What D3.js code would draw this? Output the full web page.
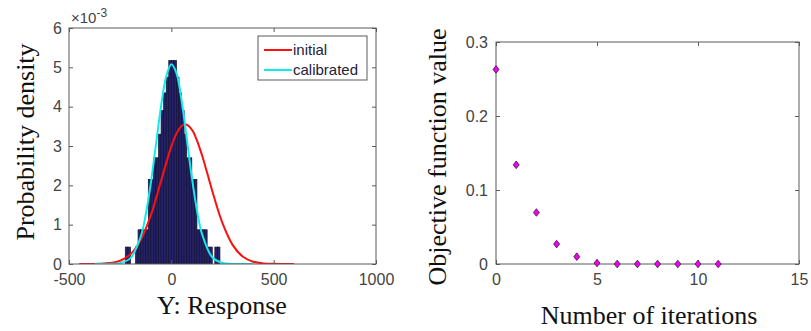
<!DOCTYPE html>
<html>
<head>
<meta charset="utf-8">
<script src="https://cdn.jsdelivr.net/npm/d3@7"></script>
<style>
  body { margin: 0; background: #fff; }
  svg { display: block; }
</style>
</head>
<body>
<svg id="chart" width="811" height="331"></svg>
<script>
// ---------------- DATA ----------------
// Left panel: histogram (left edge of bin, bin width, density x1e-3)
const binLeft = [-225, -212.5, -200, -187.5, -175, -162.5, -150, -137.5, -125, -112.5,
  -100, -87.5, -75, -62.5, -50, -37.5, -25, -12.5, 0, 12.5,
  25, 37.5, 50, 62.5, 75, 87.5, 100, 112.5, 125, 137.5,
  150, 162.5, 175, 187.5, 200, 212.5, 225];
const binWidth = 12.5;
const binHeight = [0.43, 0.43, 0, 0, 0.43, 0.87, 0.87, 0.87, 0.87, 2.15,
  2.15, 2.7, 2.7, 3.3, 3.9, 4.35, 4.75, 5.17, 5.17, 5.17,
  4.75, 4.35, 3.9, 3.3, 2.7, 2.7, 2.15, 2.15, 0.87, 0.87,
  0.87, 0.87, 0.43, 0.43, 0, 0.43, 0.43];

// Density curves (x1e-3)
const initialX = [-450, -400, -350, -300, -250, -200, -150, -100, -50, 0, 25, 50, 68, 100, 125, 150, 175, 200, 250, 300, 350, 400, 450, 500, 550, 600];
const initialY = [0.0002, 0.001, 0.005, 0.023, 0.083, 0.246, 0.607, 1.243, 2.116, 2.99, 3.314, 3.507, 3.55, 3.418, 3.146, 2.765, 2.32, 1.858, 1.037, 0.48, 0.185, 0.059, 0.016, 0.0035, 0.0006, 0.0001];
const calibX = [-375, -300, -250, -200, -150, -125, -100, -75, -50, -25, 0, 25, 50, 75, 100, 125, 150, 200, 250, 300, 400];
const calibY = [0, 0.002, 0.021, 0.149, 0.687, 1.257, 2.064, 3.041, 4.02, 4.769, 5.078, 4.852, 4.161, 3.203, 2.212, 1.371, 0.762, 0.171, 0.025, 0.002, 0];

const legendLabels = ["initial", "calibrated"];

const leftXTicks = [-500, 0, 500, 1000];
const leftYTicks = [0, 1, 2, 3, 4, 5, 6];

// Right panel: objective function per iteration
const iterations = [0, 1, 2, 3, 4, 5, 6, 7, 8, 9, 10, 11];
const objective = [0.263, 0.134, 0.0696, 0.0269, 0.0099, 0.0013, 0, 0, 0, 0, 0, 0];
const rightXTicks = [0, 5, 10, 15];
const rightYTicks = [0, 0.1, 0.2, 0.3];

// ---------------- DRAW ----------------
const svg = d3.select("#chart");
const tickFont = "'Liberation Sans', Arial, sans-serif";
const serif = "'Liberation Serif', 'Times New Roman', serif";
const tickColor = "#444";
const boxColor = "#5a5a5a";
const plain = d => String(d);

function styleAxis(g) {
  g.select(".domain").remove();
  g.selectAll(".tick line").attr("stroke", boxColor);
  g.selectAll(".tick text").attr("fill", tickColor)
    .style("font-family", tickFont).style("font-size", "16px");
}

// ----- Left panel -----
const L = { x0: 69, x1: 376, y0: 28, y1: 264 };
const xL = d3.scaleLinear().domain([-500, 1000]).range([L.x0, L.x1]);
const yL = d3.scaleLinear().domain([0, 6]).range([L.y1, L.y0]);

const gL = svg.append("g");
gL.append("defs").append("clipPath").attr("id", "clipL")
  .append("rect").attr("x", L.x0).attr("y", L.y0).attr("width", L.x1 - L.x0).attr("height", L.y1 - L.y0);

const plotL = gL.append("g").attr("clip-path", "url(#clipL)");
plotL.selectAll("rect.bar").data(binLeft.map((b, i) => ({ b, h: binHeight[i] })).filter(d => d.h > 0))
  .enter().append("rect").attr("class", "bar")
  .attr("x", d => xL(d.b))
  .attr("width", d => xL(d.b + binWidth) - xL(d.b))
  .attr("y", d => yL(d.h))
  .attr("height", d => yL(0) - yL(d.h))
  .attr("fill", "#26226a")
  .attr("stroke", "#101030")
  .attr("stroke-width", 0.7);

const line = d3.line().x(d => xL(d[0])).y(d => yL(d[1])).curve(d3.curveCatmullRom.alpha(0.5));
plotL.append("path").datum(initialX.map((x, i) => [x, initialY[i]]))
  .attr("d", line).attr("fill", "none").attr("stroke", "#ff1010").attr("stroke-width", 2);
plotL.append("path").datum(calibX.map((x, i) => [x, calibY[i]]))
  .attr("d", line).attr("fill", "none").attr("stroke", "#10ecec").attr("stroke-width", 2);

// box
gL.append("rect").attr("x", L.x0).attr("y", L.y0).attr("width", L.x1 - L.x0).attr("height", L.y1 - L.y0)
  .attr("fill", "none").attr("stroke", boxColor).attr("stroke-width", 1);

gL.append("g").attr("transform", `translate(0,${L.y1})`)
  .call(d3.axisBottom(xL).tickValues(leftXTicks).tickSizeInner(-4).tickSizeOuter(0).tickPadding(10).tickFormat(plain))
  .call(styleAxis);
gL.append("g").attr("transform", `translate(0,${L.y0})`)
  .call(d3.axisTop(xL).tickValues(leftXTicks).tickSizeInner(-4).tickSizeOuter(0).tickFormat(""))
  .call(styleAxis);
gL.append("g").attr("transform", `translate(${L.x0},0)`)
  .call(d3.axisLeft(yL).tickValues(leftYTicks).tickSizeInner(-4).tickSizeOuter(0).tickPadding(7).tickFormat(plain))
  .call(styleAxis);
gL.append("g").attr("transform", `translate(${L.x1},0)`)
  .call(d3.axisRight(yL).tickValues(leftYTicks).tickSizeInner(-4).tickSizeOuter(0).tickFormat(""))
  .call(styleAxis);

// exponent label
const expT = gL.append("text").attr("x", 71).attr("y", 23)
  .attr("fill", tickColor).style("font-family", tickFont).style("font-size", "15px");
expT.append("tspan").text("×10");
expT.append("tspan").attr("dy", -6).style("font-size", "12px").text("-3");

// axis titles
gL.append("text").attr("x", 222).attr("y", 314).attr("text-anchor", "middle")
  .style("font-family", serif).style("font-size", "26px").attr("fill", "#111")
  .text("Y: Response");
gL.append("text").attr("transform", "translate(34,142) rotate(-90)").attr("text-anchor", "middle")
  .style("font-family", serif).style("font-size", "26px").attr("fill", "#111")
  .text("Probability density");

// legend
const lg = gL.append("g");
lg.append("rect").attr("x", 258).attr("y", 36).attr("width", 109).attr("height", 44)
  .attr("fill", "#fff").attr("stroke", boxColor).attr("stroke-width", 1);
const legColors = ["#ff1010", "#10ecec"];
legendLabels.forEach((lab, i) => {
  const yy = 50 + i * 20;
  lg.append("line").attr("x1", 264).attr("x2", 292).attr("y1", yy).attr("y2", yy)
    .attr("stroke", legColors[i]).attr("stroke-width", 2);
  lg.append("text").attr("x", 293).attr("y", yy).attr("dy", "0.35em")
    .style("font-family", tickFont).style("font-size", "15px").attr("fill", "#22223a")
    .text(lab);
});

// ----- Right panel -----
const R = { x0: 496, x1: 799, y0: 42, y1: 264 };
const xR = d3.scaleLinear().domain([0, 15]).range([R.x0, R.x1]);
const yR = d3.scaleLinear().domain([0, 0.3]).range([R.y1, R.y0]);
const gR = svg.append("g");

gR.append("rect").attr("x", R.x0).attr("y", R.y0).attr("width", R.x1 - R.x0).attr("height", R.y1 - R.y0)
  .attr("fill", "none").attr("stroke", boxColor).attr("stroke-width", 1);

gR.append("g").attr("transform", `translate(0,${R.y1})`)
  .call(d3.axisBottom(xR).tickValues(rightXTicks).tickSizeInner(-4).tickSizeOuter(0).tickPadding(10).tickFormat(plain))
  .call(styleAxis);
gR.append("g").attr("transform", `translate(0,${R.y0})`)
  .call(d3.axisTop(xR).tickValues(rightXTicks).tickSizeInner(-4).tickSizeOuter(0).tickFormat(""))
  .call(styleAxis);
gR.append("g").attr("transform", `translate(${R.x0},0)`)
  .call(d3.axisLeft(yR).tickValues(rightYTicks).tickSizeInner(-4).tickSizeOuter(0).tickPadding(8)
    .tickFormat(d => d === 0 ? "0" : d3.format(".1f")(d)))
  .call(styleAxis);
gR.append("g").attr("transform", `translate(${R.x1},0)`)
  .call(d3.axisRight(yR).tickValues(rightYTicks).tickSizeInner(-4).tickSizeOuter(0).tickFormat(""))
  .call(styleAxis);

gR.selectAll("path.pt").data(iterations.map((it, i) => [it, objective[i]]))
  .enter().append("path").attr("class", "pt")
  .attr("transform", d => `translate(${xR(d[0])},${yR(d[1])})`)
  .attr("d", "M0,-3.8L3,0L0,3.8L-3,0Z")
  .attr("fill", "#f000f0").attr("stroke", "#3a1a3a").attr("stroke-width", 0.8);

gR.append("text").attr("x", 649).attr("y", 324).attr("text-anchor", "middle")
  .style("font-family", serif).style("font-size", "26px").attr("fill", "#111")
  .text("Number of iterations");
gR.append("text").attr("transform", "translate(446,157) rotate(-90)").attr("text-anchor", "middle")
  .style("font-family", serif).style("font-size", "26px").attr("fill", "#111")
  .text("Objective function value");
</script>
</body>
</html>
